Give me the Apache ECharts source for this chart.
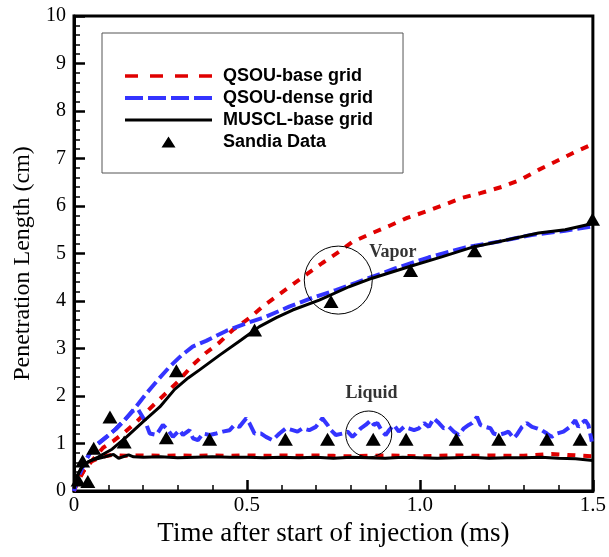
<!DOCTYPE html>
<html>
<head>
<meta charset="utf-8">
<script src="https://cdn.jsdelivr.net/npm/echarts@6/dist/echarts.min.js"></script>
<style>html,body{margin:0;padding:0;background:#fff;}#c{width:609px;height:557px;}</style>
</head>
<body>
<div id="c"></div>
<script>
// ---- data (time in ms, penetration in cm) ----
var qsouBaseVapor = [[0,0],[0.01,0.2],[0.03,0.45],[0.05,0.62],[0.084,0.91],[0.115,1.06],[0.147,1.24],[0.18,1.45],[0.21,1.67],[0.256,1.99],[0.30,2.30],[0.343,2.65],[0.38,2.9],[0.421,3.13],[0.459,3.39],[0.507,3.64],[0.545,3.88],[0.588,4.11],[0.631,4.34],[0.674,4.57],[0.718,4.80],[0.767,5.04],[0.804,5.24],[0.862,5.43],[0.911,5.58],[0.963,5.75],[1.016,5.88],[1.069,6.02],[1.121,6.17],[1.175,6.27],[1.236,6.40],[1.290,6.55],[1.343,6.76],[1.391,6.93],[1.444,7.12],[1.492,7.28],[1.5,7.31]];
var qsouBaseLiquid = [[0,0],[0.01,0.2],[0.03,0.45],[0.05,0.62],[0.08,0.72],[0.11,0.76],[0.15,0.74],[0.2,0.75],[0.25,0.74],[0.3,0.75],[0.35,0.74],[0.4,0.75],[0.45,0.74],[0.5,0.75],[0.55,0.74],[0.6,0.75],[0.65,0.74],[0.7,0.75],[0.75,0.74],[0.8,0.73],[0.85,0.74],[0.9,0.75],[0.95,0.74],[1.0,0.73],[1.05,0.74],[1.1,0.75],[1.15,0.74],[1.2,0.75],[1.25,0.74],[1.3,0.74],[1.38,0.78],[1.45,0.75],[1.5,0.73]];
var qsouDenseVapor = [[0,0],[0.01,0.25],[0.03,0.6],[0.055,0.91],[0.094,1.14],[0.12,1.3],[0.147,1.50],[0.18,1.78],[0.21,2.06],[0.245,2.36],[0.277,2.62],[0.31,2.85],[0.343,3.04],[0.382,3.16],[0.44,3.37],[0.498,3.53],[0.555,3.67],[0.622,3.88],[0.690,4.07],[0.757,4.23],[0.815,4.38],[0.844,4.46],[0.930,4.69],[1.026,4.92],[1.132,5.13],[1.228,5.25],[1.323,5.39],[1.420,5.48],[1.5,5.57]];
var qsouDenseLiquid = [[0,0],[0.01,0.25],[0.03,0.6],[0.055,0.91],[0.094,1.14],[0.12,1.3],[0.147,1.50],[0.17,1.68],[0.185,1.72],[0.195,1.6],[0.205,1.48],[0.219,1.21],[0.238,1.18],[0.257,1.39],[0.272,1.28],[0.286,1.14],[0.305,1.28],[0.315,1.18],[0.334,1.28],[0.344,1.11],[0.358,1.07],[0.373,1.21],[0.392,1.18],[0.411,1.21],[0.430,1.25],[0.450,1.28],[0.464,1.39],[0.478,1.35],[0.498,1.53],[0.507,1.43],[0.522,1.21],[0.541,1.21],[0.555,1.14],[0.574,1.07],[0.594,1.21],[0.613,1.32],[0.632,1.28],[0.646,1.25],[0.661,1.32],[0.680,1.28],[0.699,1.35],[0.718,1.53],[0.733,1.39],[0.743,1.28],[0.757,1.18],[0.776,1.21],[0.791,1.25],[0.805,1.14],[0.815,1.21],[0.829,1.32],[0.843,1.39],[0.858,1.49],[0.867,1.39],[0.877,1.43],[0.891,1.25],[0.901,1.18],[0.911,1.28],[0.925,1.39],[0.939,1.25],[0.954,1.35],[0.968,1.32],[0.983,1.28],[0.997,1.32],[1.012,1.43],[1.026,1.35],[1.040,1.53],[1.055,1.43],[1.069,1.32],[1.084,1.35],[1.098,1.25],[1.112,1.18],[1.127,1.32],[1.141,1.39],[1.151,1.43],[1.165,1.56],[1.175,1.39],[1.189,1.35],[1.204,1.32],[1.213,1.21],[1.228,1.18],[1.242,1.21],[1.256,1.25],[1.271,1.11],[1.280,1.18],[1.295,1.35],[1.309,1.43],[1.324,1.35],[1.338,1.32],[1.352,1.28],[1.367,1.21],[1.381,1.14],[1.396,1.21],[1.415,1.25],[1.434,1.35],[1.449,1.49],[1.458,1.35],[1.468,1.43],[1.478,1.49],[1.487,1.39],[1.497,1.04]];
var musclBaseVapor = [[0,0.05],[0.008,0.30],[0.023,0.51],[0.042,0.62],[0.071,0.72],[0.11,0.88],[0.152,1.14],[0.20,1.46],[0.248,1.77],[0.291,2.14],[0.33,2.38],[0.363,2.55],[0.421,2.86],[0.483,3.18],[0.536,3.46],[0.585,3.65],[0.632,3.81],[0.709,4.02],[0.795,4.30],[0.862,4.48],[0.968,4.72],[1.063,4.93],[1.150,5.13],[1.247,5.28],[1.343,5.43],[1.420,5.50],[1.5,5.63]];
var musclBaseLiquid = [[0,0.05],[0.008,0.30],[0.023,0.51],[0.042,0.62],[0.061,0.67],[0.09,0.72],[0.114,0.77],[0.129,0.69],[0.158,0.76],[0.172,0.72],[0.2,0.71],[0.25,0.72],[0.3,0.70],[0.35,0.71],[0.4,0.72],[0.45,0.71],[0.5,0.71],[0.55,0.70],[0.6,0.71],[0.65,0.70],[0.7,0.71],[0.75,0.69],[0.8,0.71],[0.85,0.70],[0.9,0.69],[0.95,0.71],[1.0,0.70],[1.05,0.69],[1.1,0.70],[1.15,0.71],[1.2,0.69],[1.25,0.70],[1.3,0.70],[1.35,0.71],[1.4,0.69],[1.45,0.68],[1.5,0.64]];
var sandiaVapor = [[0.104,1.56],[0.296,2.53],[0.522,3.39],[0.743,3.99],[0.973,4.64],[1.158,5.06],[1.499,5.72]];
var sandiaLiquid = [[0.012,0.23],[0.040,0.20],[0.025,0.63],[0.057,0.90],[0.145,1.03],[0.267,1.12],[0.392,1.09],[0.611,1.09],[0.733,1.09],[0.865,1.09],[0.96,1.09],[1.105,1.09],[1.228,1.09],[1.367,1.09],[1.463,1.09]];
var xTicks = ['0','0.5','1.0','1.5'];
var legendNames = ['QSOU-base grid','QSOU-dense grid','MUSCL-base grid','Sandia Data'];
var annotCircles = [[0.764,4.44,68],[0.852,1.2,46]];
var annotTexts = [[0.922,5.03,'Vapor'],[0.86,2.06,'Liquid']];

var RED = '#e00000', BLUE = '#3434ff';
var serif = 'Liberation Serif';

// legend icons (box 87 x 14, corner points keep the scale at 1)
var BOX = 'M0,0L0,0Z M87,14L87,14Z ';
var legendIcons = [
  'path://' + BOX + 'M0,5.25h13v3.5h-13z M25,5.25h13v3.5h-13z M50,5.25h13v3.5h-13z M74,5.25h13v3.5h-13z',
  'path://' + BOX + 'M0,5h18v4h-18z M23,5h18v4h-18z M46,5h18v4h-18z M69,5h18v4h-18z',
  'path://' + BOX + 'M0,5.5h87v3h-87z',
  'path://' + BOX + 'M36.5,12.5L43.5,1.5L50.5,12.5Z'
];

function lineSeries(name, data, color, width, type) {
  return {
    name: name, type: 'line', data: data, symbol: 'none', showSymbol: false,
    animation: false, clip: true,
    lineStyle: {color: color, width: width, type: type},
    itemStyle: {color: color}
  };
}

var chart = echarts.init(document.getElementById('c'));
chart.setOption({
  animation: false,
  backgroundColor: '#fff',
  grid: {left: 74, right: 14, top: 16, bottom: 66, show: true, borderColor: '#000', borderWidth: 3},
  legend: {
    data: legendNames.map(function (n, i) {
      return {name: n, icon: legendIcons[i], itemStyle: {borderWidth: 0}};
    }),
    orient: 'vertical',
    left: 102, top: 33,
    padding: [34, 30, 22, 23],
    itemWidth: 87, itemHeight: 14, itemGap: 4,
    symbolKeepAspect: true,
    borderColor: '#555', borderWidth: 1,
    backgroundColor: '#fff',
    textStyle: {fontFamily: 'Liberation Sans', fontWeight: 'bold', fontSize: 18, color: '#000', padding: [0, 0, 0, 6]},
    selectedMode: false
  },
  xAxis: {
    type: 'value', min: 0, max: 1.5, interval: 0.5,
    name: 'Time after start of injection (ms)', nameLocation: 'middle', nameGap: 22,
    nameTextStyle: {fontFamily: serif, fontSize: 27, color: '#000'},
    axisLine: {show: true, lineStyle: {color: '#000', width: 3}},
    axisTick: {show: true, inside: true, length: 11, lineStyle: {color: '#000', width: 2.5}},
    minorTick: {show: true, splitNumber: 5, length: 6, lineStyle: {color: '#000', width: 1.5}},
    splitLine: {show: false},
    axisLabel: {fontFamily: serif, fontSize: 21, color: '#000', margin: 4,
      formatter: function (v) { return xTicks[Math.round(v / 0.5)]; }}
  },
  yAxis: {
    type: 'value', min: 0, max: 10, interval: 1,
    name: 'Penetration Length (cm)', nameLocation: 'middle', nameGap: 39,
    nameTextStyle: {fontFamily: serif, fontSize: 24, color: '#000', padding: [0, 20, 0, 0]},
    axisLine: {show: true, lineStyle: {color: '#000', width: 3}},
    axisTick: {show: true, inside: true, length: 11, lineStyle: {color: '#000', width: 2.5}},
    minorTick: {show: true, splitNumber: 5, length: 6, lineStyle: {color: '#000', width: 1.5}},
    splitLine: {show: false},
    axisLabel: {fontFamily: serif, fontSize: 20, color: '#000', margin: 8}
  },
  series: [
    lineSeries('QSOU-base grid', qsouBaseVapor, RED, 4, [8, 8]),
    lineSeries('QSOU-base grid', qsouBaseLiquid, RED, 4, [8, 8]),
    lineSeries('QSOU-dense grid', qsouDenseVapor, BLUE, 4, [13, 5]),
    lineSeries('QSOU-dense grid', qsouDenseLiquid, BLUE, 4, [13, 5]),
    lineSeries('MUSCL-base grid', musclBaseVapor, '#000', 3, 'solid'),
    lineSeries('MUSCL-base grid', musclBaseLiquid, '#000', 3, 'solid'),
    {
      name: 'Sandia Data', type: 'scatter', symbol: 'triangle', symbolSize: [15, 13],
      data: sandiaVapor.concat(sandiaLiquid), clip: false, animation: false,
      itemStyle: {color: '#000', opacity: 1}, z: 5
    },
    {
      name: 'annot', type: 'scatter', animation: false, silent: true, clip: false, z: 6,
      data: annotCircles.map(function (c) {
        return {value: [c[0], c[1]], symbol: 'circle', symbolSize: c[2],
          itemStyle: {color: 'rgba(0,0,0,0)', borderColor: '#000', borderWidth: 1, opacity: 1}};
      }).concat(annotTexts.map(function (t) {
        return {value: [t[0], t[1]], symbolSize: 0,
          label: {show: true, position: 'inside', formatter: t[2],
            fontFamily: serif, fontWeight: 'bold', fontSize: 18, color: '#000'}};
      }))
    }
  ]
});
</script>
</body>
</html>
